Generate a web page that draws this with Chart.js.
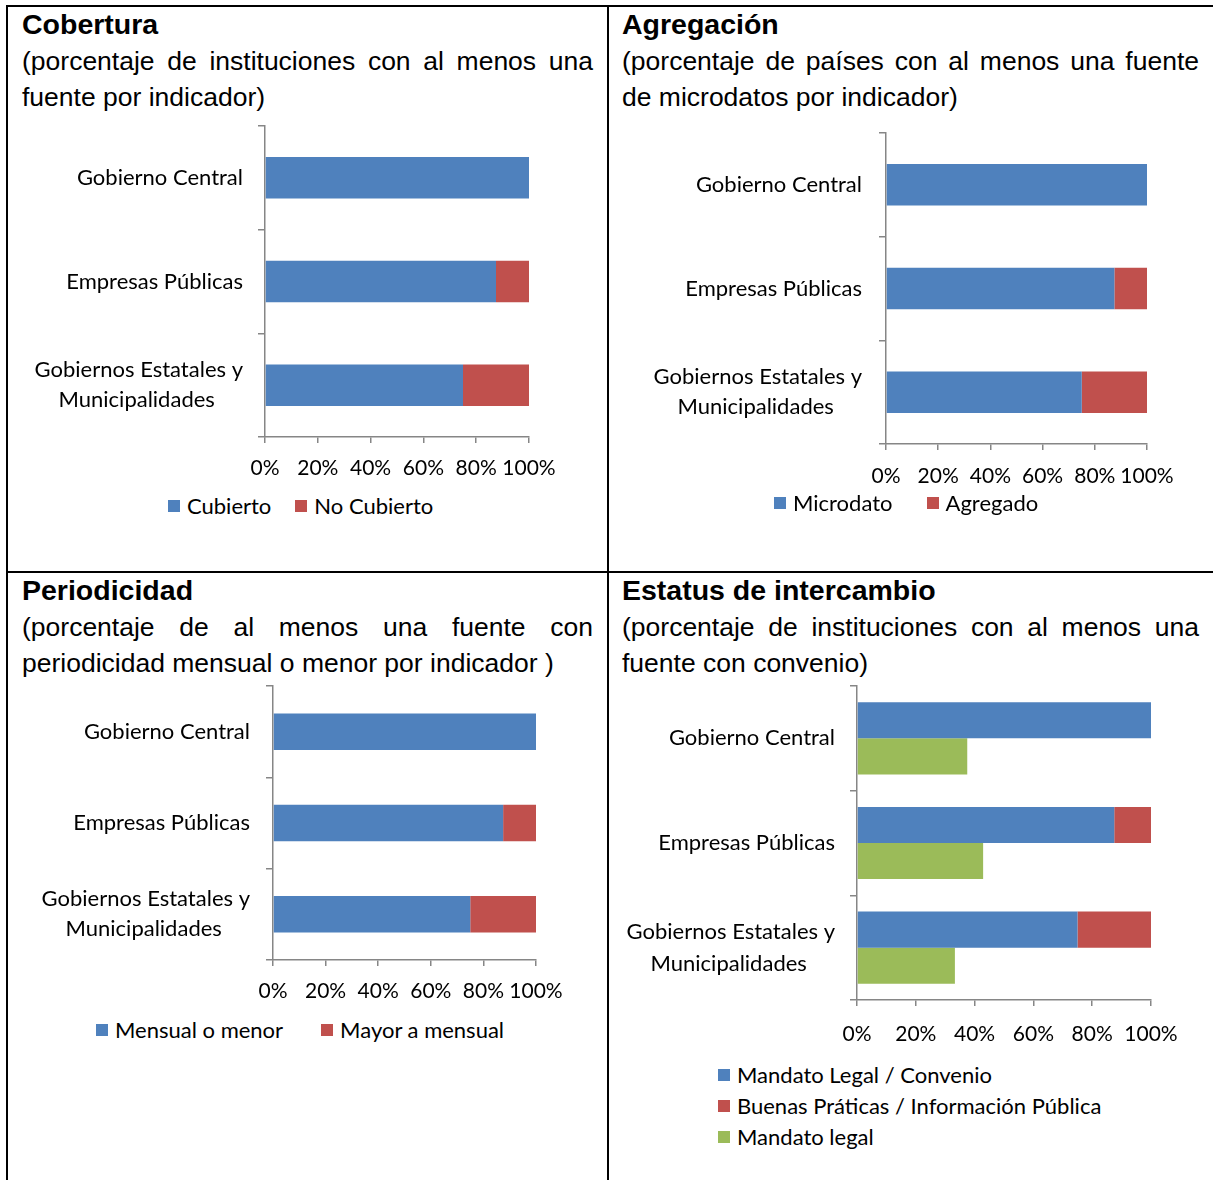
<!DOCTYPE html>
<html>
<head>
<meta charset="utf-8">
<script src="https://cdn.jsdelivr.net/npm/chart.js@4.4.1/dist/chart.umd.min.js"></script>
<style>
  body { margin: 0; background: #fff; width: 1213px; height: 1180px; position: relative; overflow: hidden; }
  .line { position: absolute; background: #000; }
  .title { position: absolute; font: bold 28.5px "Liberation Sans", Arial, sans-serif; line-height: 30px; color: #000; }
  .sub { position: absolute; font: 26.5px "Liberation Sans", Arial, sans-serif; line-height: 36px; color: #000; }
  .sub .j { text-align: justify; text-align-last: justify; }
  canvas { position: absolute; }
  .legend { position: absolute; font: 22px Lato, sans-serif; color: #000; line-height: 24px; }
  .legend span.item { display: inline-flex; align-items: center; }
  .legend .box { display: inline-block; width: 12px; height: 12px; margin-right: 7px; }
  .legend.col span.item { display: flex; margin-bottom: 7px; }
</style>
</head>
<body>
<div class="line" style="left:6px;top:5px;width:1207px;height:2px"></div>
<div class="line" style="left:6px;top:5px;width:2px;height:1175px"></div>
<div class="line" style="left:607px;top:5px;width:2px;height:1175px"></div>
<div class="line" style="left:6px;top:571px;width:1207px;height:2px"></div>

<div class="title" style="left:22px;top:9px">Cobertura</div>
<div class="sub" style="left:22px;top:43px;width:571px">
  <div class="j">(porcentaje de instituciones con al menos una</div>
  <div>fuente por indicador)</div>
</div>
<div class="title" style="left:622px;top:9px">Agregación</div>
<div class="sub" style="left:622px;top:43px;width:577px">
  <div class="j">(porcentaje de países con al menos una fuente</div>
  <div>de microdatos por indicador)</div>
</div>
<div class="title" style="left:22px;top:575px">Periodicidad</div>
<div class="sub" style="left:22px;top:609px;width:571px">
  <div class="j">(porcentaje de al menos una fuente con</div>
  <div>periodicidad mensual o menor por indicador )</div>
</div>
<div class="title" style="left:622px;top:575px">Estatus de intercambio</div>
<div class="sub" style="left:622px;top:609px;width:577px">
  <div class="j">(porcentaje de instituciones con al menos una</div>
  <div>fuente con convenio)</div>
</div>

<canvas id="c1" width="560" height="380" style="left:20px;top:110px"></canvas>
<canvas id="c2" width="580" height="382" style="left:620px;top:115px"></canvas>
<canvas id="c3" width="570" height="337" style="left:20px;top:676px"></canvas>
<canvas id="c4" width="580" height="384" style="left:620px;top:676px"></canvas>

<div class="legend" id="l1" style="left:168px;top:492px"></div>
<div class="legend" id="l2" style="left:774px;top:489px"></div>
<div class="legend" id="l3" style="left:96px;top:1016px"></div>
<div class="legend col" id="l4" style="left:718px;top:1063px"></div>

<script>
const categories = ['Gobierno Central', 'Empresas Públicas', ['Gobiernos Estatales y', 'Municipalidades']];
const xTicks = [0, 20, 40, 60, 80, 100];

const coberturaCubierto = [100, 87.5, 75];
const coberturaNoCubierto = [0, 12.5, 25];

const agregacionMicrodato = [100, 87.5, 75];
const agregacionAgregado = [0, 12.5, 25];

const periodicidadMensual = [100, 87.5, 75];
const periodicidadMayor = [0, 12.5, 25];

const intercambioConvenio = [100, 87.5, 75];
const intercambioBuenas = [0, 12.5, 25];
const intercambioLegal = [37.5, 42.9, 33.3];

const BLUE = '#4F81BD', RED = '#C0504D', GREEN = '#9BBB59';
const AXIS = '#868686';
const FONT = 'Lato';
const LABEL_SIZE = 22;

Chart.defaults.font.family = FONT;
Chart.defaults.font.size = LABEL_SIZE;
Chart.defaults.color = '#000';

// centre the lines of a two-line label inside its right-aligned block
const mctx = document.createElement('canvas').getContext('2d');
function centerLines(label) {
    if (!Array.isArray(label)) return label;
    mctx.font = LABEL_SIZE + 'px ' + FONT;
    const widest = Math.max(...label.map(l => mctx.measureText(l).width));
    const sp = mctx.measureText(' ').width;
    return label.map(l => l + ' '.repeat(Math.round((widest - mctx.measureText(l).width) / 2 / sp)));
}

function makeChart(id, datasets, dims) {
    return new Chart(document.getElementById(id), {
        type: 'bar',
        data: { labels: categories, datasets: datasets },
        options: {
            indexAxis: 'y',
            responsive: false,
            animation: false,
            categoryPercentage: dims.catPct,
            barPercentage: 1,
            layout: { padding: { top: dims.top, right: dims.right, left: 0, bottom: 0 } },
            plugins: { legend: { display: false }, tooltip: { enabled: false } },
            scales: {
                x: {
                    stacked: true,
                    min: 0,
                    max: 100,
                    afterBuildTicks: (s) => { s.ticks = xTicks.map(v => ({ value: v })); },
                    ticks: {
                        callback: v => v + '%',
                        padding: dims.xPad,
                        maxRotation: 0,
                        minRotation: 0,
                        autoSkip: false,
                        font: { size: 21 }
                    },
                    grid: { drawOnChartArea: false, drawTicks: true, tickLength: 6, color: AXIS, lineWidth: 1.5 },
                    border: { color: AXIS, width: 1.5 },
                    afterFit: (s) => { s.height = dims.xH; s.paddingLeft = 0; s.paddingRight = 0; }
                },
                y: {
                    stacked: true,
                    ticks: {
                        padding: dims.yPad,
                        font: { size: LABEL_SIZE, lineHeight: dims.lh },
                        callback: function (v) { return centerLines(this.getLabelForValue(v)); }
                    },
                    grid: { drawOnChartArea: false, drawTicks: true, tickLength: 7, color: AXIS, lineWidth: 1.5 },
                    border: { color: AXIS, width: 1.5 },
                    afterFit: (s) => { s.width = dims.yW; s.paddingTop = 0; s.paddingBottom = 0; }
                }
            }
        }
    });
}

function legend(id, items, gap) {
    document.getElementById(id).innerHTML = items.map(it =>
        '<span class="item" style="margin-right:' + gap + 'px"><span class="box" style="background:' + it[1] + '"></span>' + it[0] + '</span>'
    ).join('');
}

makeChart('c1', [
    { label: 'Cubierto', data: coberturaCubierto, backgroundColor: BLUE },
    { label: 'No Cubierto', data: coberturaNoCubierto, backgroundColor: RED }
], { top: 16, right: 51, yW: 245, xH: 53, yPad: 15, xPad: 13, catPct: 0.4, lh: 1.36 });
legend('l1', [['Cubierto', BLUE], ['No Cubierto', RED]], 24);

makeChart('c2', [
    { label: 'Microdato', data: agregacionMicrodato, backgroundColor: BLUE },
    { label: 'Agregado', data: agregacionAgregado, backgroundColor: RED }
], { top: 18, right: 53, yW: 266, xH: 53, yPad: 17, xPad: 14, catPct: 0.4, lh: 1.36 });
legend('l2', [['Microdato', BLUE], ['Agregado', RED]], 34);

makeChart('c3', [
    { label: 'Mensual o menor', data: periodicidadMensual, backgroundColor: BLUE },
    { label: 'Mayor a mensual', data: periodicidadMayor, backgroundColor: RED }
], { top: 10, right: 54, yW: 253, xH: 53, yPad: 16, xPad: 13, catPct: 0.4, lh: 1.36 });
legend('l3', [['Mensual o menor', BLUE], ['Mayor a mensual', RED]], 38);

makeChart('c4', [
    { label: 'Mandato Legal / Convenio', data: intercambioConvenio, backgroundColor: BLUE, stack: 'a' },
    { label: 'Buenas Práticas / Información Pública', data: intercambioBuenas, backgroundColor: RED, stack: 'a' },
    { label: 'Mandato legal', data: intercambioLegal, backgroundColor: GREEN, stack: 'b' }
], { top: 10, right: 49, yW: 237, xH: 60, yPad: 15, xPad: 16, catPct: 0.69, lh: 1.45 });
legend('l4', [['Mandato Legal / Convenio', BLUE], ['Buenas Práticas / Información Pública', RED], ['Mandato legal', GREEN]], 0);
</script>
</body>
</html>
